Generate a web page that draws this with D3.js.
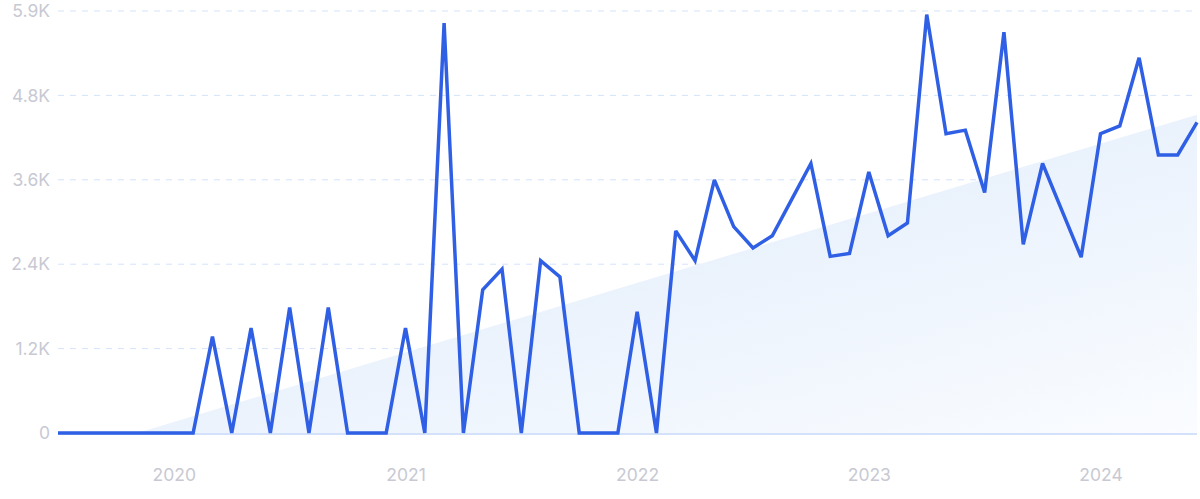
<!DOCTYPE html>
<html>
<head>
<meta charset="utf-8">
<script src="https://cdn.jsdelivr.net/npm/d3@7/dist/d3.min.js"></script>
<style>
  html, body { margin: 0; padding: 0; background: #ffffff; }
  svg { display: block; font-family: Inter, "Noto Sans", sans-serif; }
</style>
</head>
<body>
<svg id="chart" width="1200" height="499"></svg>
<script>
// Monthly values, July 2019 – June 2024
const months = [
  "2019-07","2019-08","2019-09","2019-10","2019-11","2019-12",
  "2020-01","2020-02","2020-03","2020-04","2020-05","2020-06","2020-07","2020-08","2020-09","2020-10","2020-11","2020-12",
  "2021-01","2021-02","2021-03","2021-04","2021-05","2021-06","2021-07","2021-08","2021-09","2021-10","2021-11","2021-12",
  "2022-01","2022-02","2022-03","2022-04","2022-05","2022-06","2022-07","2022-08","2022-09","2022-10","2022-11","2022-12",
  "2023-01","2023-02","2023-03","2023-04","2023-05","2023-06","2023-07","2023-08","2023-09","2023-10","2023-11","2023-12",
  "2024-01","2024-02","2024-03","2024-04","2024-05","2024-06"
];
const values = [
  0,0,0,0,0,0,
  0,0,1360,0,1480,0,1770,0,1770,0,0,0,
  1480,0,5780,0,2020,2310,0,2430,2200,0,0,0,
  1710,0,2850,2430,3570,2910,2610,2780,3290,3800,2490,2530,
  3680,2780,2960,5900,4220,4270,3390,5650,2660,3800,3140,2480,
  4220,4330,5290,3920,3920,4380
];
const yTickValues = [0, 1190, 2380, 3570, 4760, 5950];
const yTickLabels = ["0", "1.2K", "2.4K", "3.6K", "4.8K", "5.9K"];
const xTickMonths = ["2020-01","2021-01","2022-01","2023-01","2024-01"];
const xTickLabels = ["2020","2021","2022","2023","2024"];

const data = months.map((m, i) => ({ m, value: values[i], i }));

const svg = d3.select("#chart");
const margin = { left: 58, right: 3, top: 11, bottom: 66 };
const W = 1200, H = 499;

const xIdx = d3.scaleLinear()
  .domain([0, months.length - 1])
  .range([margin.left, W - margin.right]);
const xPt = d3.scalePoint()
  .domain(months)
  .range([margin.left, W - margin.right]);
const y = d3.scaleLinear()
  .domain([0, yTickValues[yTickValues.length - 1]])
  .range([H - margin.bottom, margin.top]);

// Linear regression trend of the series (clamped at zero)
const mi = d3.mean(data, d => d.i), mv = d3.mean(data, d => d.value);
const slope = d3.sum(data, d => (d.i - mi) * (d.value - mv)) / d3.sum(data, d => (d.i - mi) ** 2);
const icpt = mv - slope * mi;
const i0 = -icpt / slope;
const trendPts = [{ i: 0, v: 0 }, { i: i0, v: 0 }, { i: months.length - 1, v: icpt + slope * (months.length - 1) }];

const defs = svg.append("defs");
const grad = defs.append("linearGradient").attr("id", "areaGrad")
  .attr("x1", "0").attr("y1", "0").attr("x2", "1").attr("y2", "1");
grad.append("stop").attr("offset", "0%").attr("stop-color", "#dbe8fb");
grad.append("stop").attr("offset", "60%").attr("stop-color", "#edf4fd");
grad.append("stop").attr("offset", "100%").attr("stop-color", "#fafcff");

// Grid lines
svg.append("g").selectAll("line")
  .data(yTickValues.filter(v => v > 0))
  .join("line")
  .attr("x1", margin.left).attr("x2", W - margin.right)
  .attr("y1", d => y(d)).attr("y2", d => y(d))
  .attr("stroke", "#d4e3fa").attr("stroke-width", 1)
  .attr("stroke-dasharray", "6,6");

// Trend area
svg.append("path")
  .datum(trendPts)
  .attr("fill", "url(#areaGrad)")
  .attr("d", d3.area().x(d => xIdx(d.i)).y0(y(0)).y1(d => y(d.v)));

// Baseline
svg.append("line")
  .attr("x1", margin.left).attr("x2", W - margin.right)
  .attr("y1", y(0) + 1).attr("y2", y(0) + 1)
  .attr("stroke", "#d3e2fa").attr("stroke-width", 2);

// Y axis labels
const yAxis = d3.axisLeft(y).tickValues(yTickValues)
  .tickFormat((d, i) => yTickLabels[i]).tickSize(0).tickPadding(8);
const gy = svg.append("g").attr("transform", `translate(${margin.left},0)`).call(yAxis);
gy.select(".domain").remove();
gy.selectAll("text").attr("fill", "#c8c9d3").attr("font-size", 17.5)
  .attr("font-family", "Inter, 'Noto Sans', sans-serif");

// X axis labels
const xAxis = d3.axisBottom(xPt).tickValues(xTickMonths)
  .tickFormat((d, i) => xTickLabels[i]).tickSize(0).tickPadding(36);
const gx = svg.append("g").attr("transform", `translate(0,${y(0)})`).call(xAxis);
gx.select(".domain").remove();
gx.selectAll("text").attr("fill", "#c8c9d3").attr("font-size", 17.5)
  .attr("font-family", "Inter, 'Noto Sans', sans-serif");

// Data line
svg.append("path")
  .datum(data)
  .attr("fill", "none")
  .attr("stroke", "#2f5fe4")
  .attr("stroke-width", 3.5)
  .attr("stroke-linejoin", "miter")
  .attr("stroke-miterlimit", 3)
  .attr("d", d3.line().x(d => xPt(d.m)).y(d => y(d.value)));
</script>
</body>
</html>
